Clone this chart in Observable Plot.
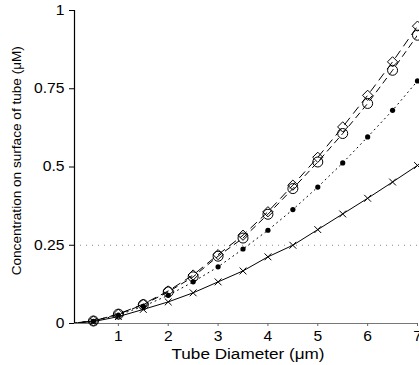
<!DOCTYPE html>
<html>
<head>
<meta charset="utf-8">
<script src="https://cdn.jsdelivr.net/npm/d3@7"></script>
<script src="https://cdn.jsdelivr.net/npm/@observablehq/plot@0.6"></script>
<style>
  html, body { margin: 0; padding: 0; background: #fff; }
  svg { display: block; }
</style>
</head>
<body>
<div id="chart"></div>
<script>
// Tube diameters (µm)
const xs = [0.5, 1, 1.5, 2, 2.5, 3, 3.5, 4, 4.5, 5, 5.5, 6, 6.5, 7];
// Series values (µM)
const crossVals   = [0.006, 0.022, 0.045, 0.069, 0.098, 0.133, 0.168, 0.213, 0.250, 0.300, 0.350, 0.400, 0.452, 0.505];
const dotVals     = [0.007, 0.027, 0.055, 0.090, 0.133, 0.181, 0.238, 0.298, 0.364, 0.436, 0.513, 0.596, 0.681, 0.775];
const circleVals  = [0.008, 0.030, 0.060, 0.101, 0.149, 0.215, 0.273, 0.349, 0.431, 0.516, 0.607, 0.703, 0.809, 0.921];
const diamondVals = [0.008, 0.030, 0.062, 0.104, 0.155, 0.220, 0.282, 0.357, 0.442, 0.531, 0.628, 0.729, 0.836, 0.950];
// Axis ticks
const xTicks = [1, 2, 3, 4, 5, 6, 7];
const yTicks = [0, 0.25, 0.5, 0.75, 1];
const yTickLabels = ["0", "0.25", "0.5", "0.75", "1"];
const xLabel = "Tube Diameter (μm)";
const yLabel = "Concentration on surface of tube (μM)";
const refLevel = 0.25;
const xDomain = [0.12, 7];

const toRows = vals => xs.map((x, i) => ({x, y: vals[i]}));
const withOrigin = vals => [{x: 0, y: 0}, ...toRows(vals)];

const plot = Plot.plot({
  width: 419,
  height: 365,
  marginLeft: 74,
  marginRight: 2,
  marginTop: 10,
  marginBottom: 42,
  style: {fontFamily: "'Liberation Sans', Arial, sans-serif", fontSize: "14px", color: "#000", background: "#fff"},
  x: {domain: xDomain},
  y: {domain: [0, 1]},
  marks: [
    Plot.ruleY([refLevel], {x1: xDomain[0], x2: xDomain[1], stroke: "#888", strokeDasharray: "1,5", strokeWidth: 1}),
    Plot.ruleY([0], {x1: xDomain[0], x2: xDomain[1], stroke: "#777", strokeWidth: 1.2}),
    Plot.ruleX([xDomain[0]], {y1: 0, y2: 1, stroke: "#000", strokeWidth: 1.2}),
    // lines
    Plot.line(withOrigin(crossVals), {x: "x", y: "y", stroke: "#000", strokeWidth: 1, clip: true}),
    Plot.line(withOrigin(dotVals), {x: "x", y: "y", stroke: "#000", strokeWidth: 1, strokeDasharray: "1,4", clip: true}),
    Plot.line(withOrigin(circleVals), {x: "x", y: "y", stroke: "#000", strokeWidth: 1, strokeDasharray: "6,5", clip: true}),
    Plot.line(withOrigin(diamondVals), {x: "x", y: "y", stroke: "#000", strokeWidth: 1, strokeDasharray: "8,6", clip: true}),
    // markers
    Plot.dot(toRows(crossVals), {x: "x", y: "y", symbol: "times", r: 3.2, stroke: "#000", strokeWidth: 1}),
    Plot.dot(toRows(dotVals), {x: "x", y: "y", r: 2.6, fill: "#000", stroke: "none"}),
    Plot.dot(toRows(circleVals), {x: "x", y: "y", r: 5, fill: "none", stroke: "#000", strokeWidth: 1}),
    Plot.dot(toRows(diamondVals), {x: "x", y: "y", symbol: "diamond2", r: 4.6, fill: "none", stroke: "#000", strokeWidth: 1}),
    // axes
    Plot.axisX({ticks: xTicks, tickSize: 3, tickPadding: 5, tickFormat: d => String(d), stroke: "#666", label: null}),
    Plot.axisY({ticks: yTicks, tickSize: 5, tickPadding: 5, tickFormat: (d, i) => yTickLabels[i], label: null}),
    Plot.text([xLabel], {x: 3.6, y: -0.099, text: d => d, fontSize: 14, lineAnchor: "middle", clip: false}),
    Plot.text([yLabel], {x: -1.04, y: 0.52, text: d => d, fontSize: 13.6, rotate: -90, lineAnchor: "middle", clip: false})
  ]
});
document.getElementById("chart").appendChild(plot);

// Reference typeface is slightly wider than Arial: stretch the tick labels and x label
const tickTexts = new Set([...xTicks.map(String), ...yTickLabels]);
d3.select(plot).selectAll("text").each(function() {
  const t = this.textContent;
  if (t === xLabel) {
    this.setAttribute("textLength", "153");
    this.setAttribute("lengthAdjust", "spacingAndGlyphs");
  } else if (tickTexts.has(t)) {
    const len = this.getComputedTextLength();
    this.setAttribute("textLength", (len * 1.12).toFixed(1));
    this.setAttribute("lengthAdjust", "spacingAndGlyphs");
  }
});
</script>
</body>
</html>
